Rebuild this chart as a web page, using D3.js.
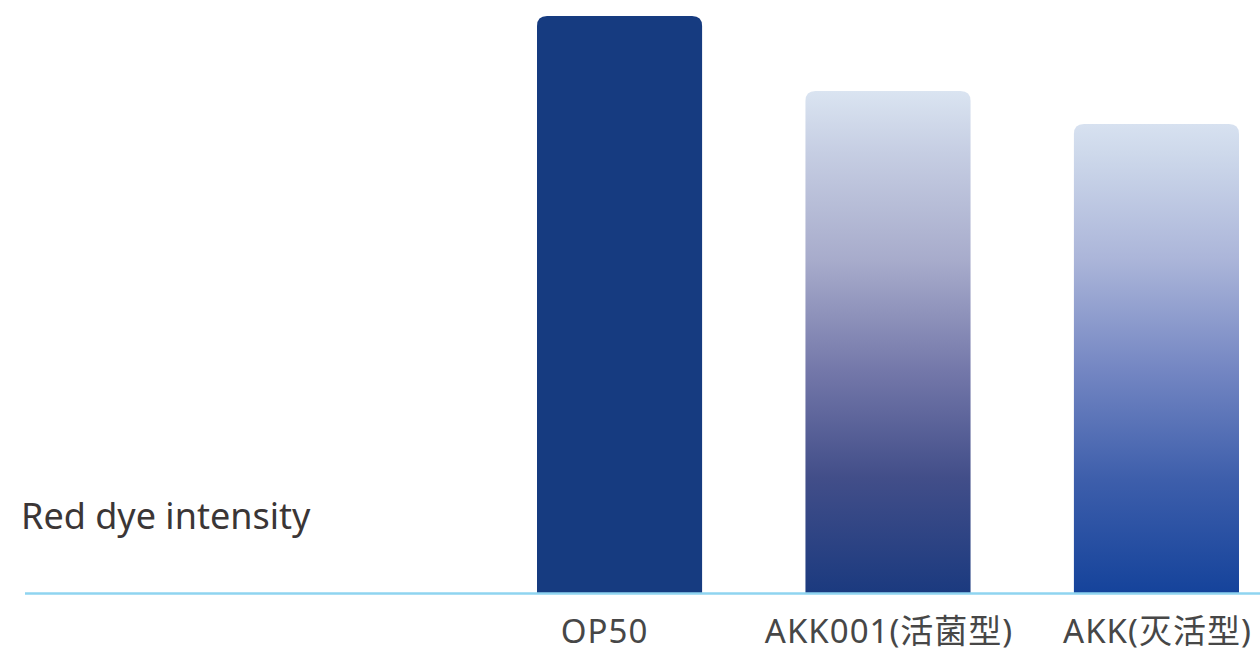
<!DOCTYPE html>
<html>
<head>
<meta charset="utf-8">
<script src="https://cdn.jsdelivr.net/npm/d3@7"></script>
<style>
html,body{margin:0;padding:0;background:#fff;}
svg{display:block;}
</style>
</head>
<body>
<svg id="chart" width="1260" height="649"></svg>
<script>
const categories = ["OP50", "AKK001(活菌型)", "AKK(灭活型)"];
const values = [100, 87, 81.3];
const yLabel = "Red dye intensity";

const svg = d3.select("#chart");
const W = 1260, H = 649;
const baseY = 593, topY = 16;

const x = d3.scaleBand().domain(categories).range([537, 1239]).paddingInner(0.385).paddingOuter(0);
const y = d3.scaleLinear().domain([0, 100]).range([baseY, topY]);

const defs = svg.append("defs");
const grads = [
  null,
  [[0, "#dae4f1"], [0.12, "#c6cee3"], [0.34, "#a7abcb"], [0.56, "#7377a9"], [0.77, "#424e89"], [1, "#1b3a7f"]],
  [[0, "#d7e1f0"], [0.06, "#ced9eb"], [0.29, "#abb5d9"], [0.52, "#7587c3"], [0.76, "#3d5eab"], [1, "#15439b"]]
];
grads.forEach((g, i) => {
  if (!g) return;
  const lg = defs.append("linearGradient").attr("id", "g" + i)
    .attr("x1", 0).attr("y1", 0).attr("x2", 0).attr("y2", 1);
  g.forEach(s => lg.append("stop").attr("offset", s[0]).attr("stop-color", s[1]));
});

const r = 10;
function barPath(x0, y0, w, h) {
  return `M${x0},${y0 + h}V${y0 + r}Q${x0},${y0} ${x0 + r},${y0}H${x0 + w - r}Q${x0 + w},${y0} ${x0 + w},${y0 + r}V${y0 + h}Z`;
}

svg.selectAll("path.bar").data(categories).enter().append("path")
  .attr("class", "bar")
  .attr("d", (d, i) => barPath(x(d), y(values[i]), x.bandwidth(), baseY - y(values[i])))
  .attr("fill", (d, i) => grads[i] ? `url(#g${i})` : "#163b80");

// baseline
svg.append("line").attr("x1", 25).attr("x2", W).attr("y1", baseY + 0.5).attr("y2", baseY + 0.5)
  .attr("stroke", "#8fd4f0").attr("stroke-width", 2.5);

// category labels
const xAxis = svg.append("g").attr("transform", `translate(0,${baseY})`)
  .call(d3.axisBottom(x).tickSize(0).tickPadding(0));
xAxis.select(".domain").remove();
xAxis.selectAll("text")
  .attr("y", 50).attr("dy", 0)
  .attr("dx", (d, i) => i === 0 ? -15 : 1)
  .attr("font-family", "'Noto Sans','Noto Sans CJK SC',sans-serif")
  .attr("font-size", 33)
  .attr("letter-spacing", 1)
  .attr("fill", "#474747");

svg.append("text").attr("x", 21).attr("y", 529)
  .attr("font-family", "'Noto Sans','Noto Sans CJK SC',sans-serif")
  .attr("font-size", 36)
  .attr("fill", "#3b3636")
  .text(yLabel);
</script>
</body>
</html>
